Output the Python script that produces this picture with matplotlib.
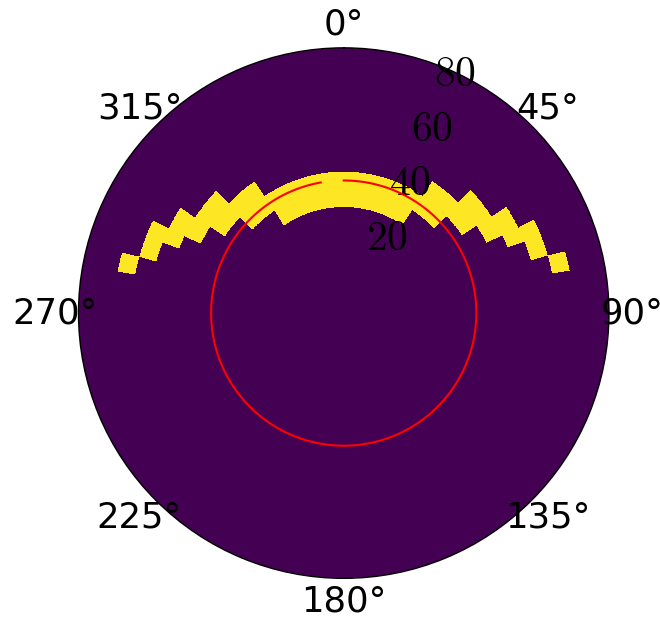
import numpy as np
import matplotlib
matplotlib.use("Agg")
import matplotlib.pyplot as plt

plt.rcParams['mathtext.fontset'] = 'cm'

# ---- data ----
r_edges = np.arange(0, 91, 6)                       # radial bin edges
ring_inner = [36, 42, 48, 54, 60, 66, 72]           # inner radius of occupied rings
theta_start = [0, 0, 34, 46, 57, 64, 74.5]          # |theta| where occupancy starts (deg)
theta_end = [34, 47, 57, 64, 68.5, 74.5, 79.5]      # |theta| where occupancy ends (deg)
circle_r = 45
circle_theta_end = 350
r_ticks = [20, 40, 60, 80]
theta_ticks = [0, 45, 90, 135, 180, 225, 270, 315]
theta_labels = ['0°', '45°', '90°', '135°', '180°', '225°', '270°', '315°']

# ---- grid ----
theta_edges_deg = np.arange(-180, 180.001, 0.25)
theta_cent = 0.5 * (theta_edges_deg[:-1] + theta_edges_deg[1:])
Z = np.zeros((len(r_edges) - 1, len(theta_cent)))
for ri, ts, te in zip(ring_inner, theta_start, theta_end):
    k = int(np.searchsorted(r_edges, ri))
    sel = (np.abs(theta_cent) >= ts) & (np.abs(theta_cent) < te)
    Z[k, sel] = 1

fig = plt.figure(figsize=(6.6, 6.19), dpi=100)
ax = fig.add_axes([0.1188, 0.0657, 0.804, 0.857], projection='polar')
ax.set_theta_zero_location('N')
ax.set_theta_direction(-1)
T, R = np.meshgrid(np.deg2rad(theta_edges_deg), r_edges)
ax.pcolormesh(T, R, Z, cmap='viridis', vmin=0, vmax=1, shading='flat')

th = np.deg2rad(np.linspace(0, circle_theta_end, 300))
ax.plot(th, np.full_like(th, circle_r), color='red', lw=1.5)

ax.set_ylim(0, 90)
ax.set_yticks(r_ticks)
ax.set_yticklabels([f'${v}$' for v in r_ticks], fontsize=30)
ax.set_rlabel_position(22.5)
ax.set_xticks(np.deg2rad(theta_ticks))
ax.set_xticklabels(theta_labels, fontsize=25.5)
ax.tick_params(axis='x', pad=6.5)
ax.grid(False)
ax.spines['polar'].set_linewidth(1.0)

fig.savefig('out.png', dpi=100)
